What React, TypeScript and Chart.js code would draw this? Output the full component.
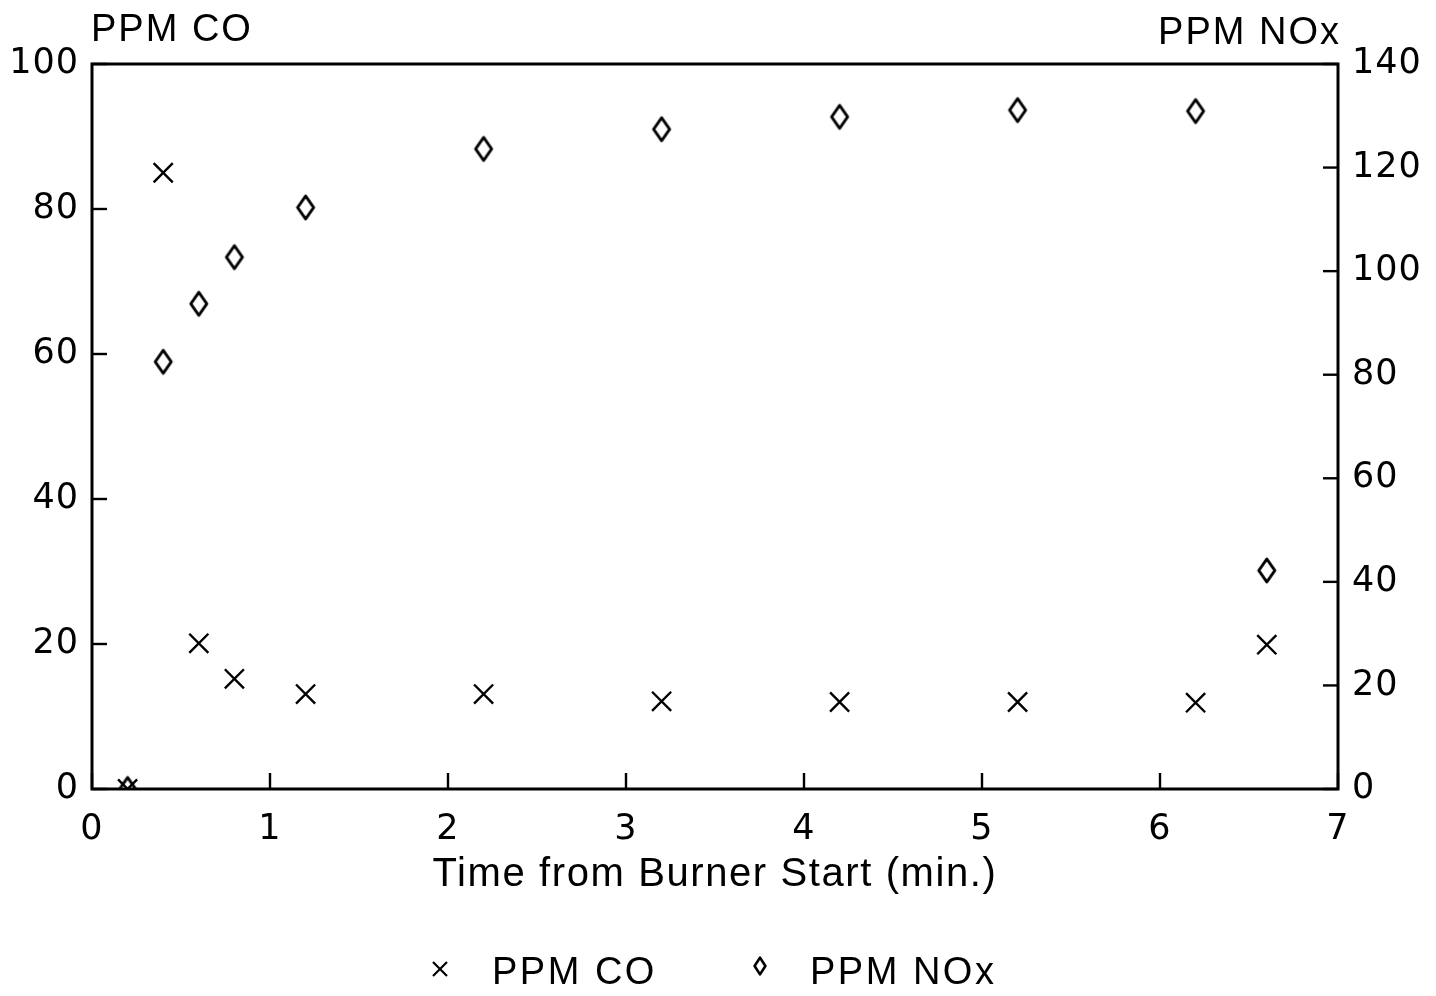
import React, { useEffect, useRef } from "react";
import { Chart, registerables } from "chart.js";

Chart.register(...registerables);

const timeMin = [0.2, 0.4, 0.6, 0.8, 1.2, 2.2, 3.2, 4.2, 5.2, 6.2, 6.6];
const ppmCO = [0, 85, 20.1, 15.2, 13.1, 13.1, 12.1, 12, 12, 11.9, 19.9];
const ppmNOx = [0, 82.5, 93.7, 102.7, 112.3, 123.6, 127.4, 129.8, 131.1, 130.9, 42.2];

const xTitle = "Time from Burner Start (min.)";
const leftTitle = "PPM CO";
const rightTitle = "PPM NOx";
const seriesLabels = ["PPM CO", "PPM NOx"];

const TICKFONT = "'DejaVu Sans', 'Liberation Sans', Arial, sans-serif";
const TEXTFONT = "'Liberation Sans', Arial, Helvetica, sans-serif";

function makeDiamond(w: number, h: number, lw: number) {
  const c = document.createElement("canvas");
  c.width = w;
  c.height = h;
  const g = c.getContext("2d")!;
  g.strokeStyle = "#000";
  g.lineWidth = lw;
  g.lineJoin = "round";
  g.beginPath();
  g.moveTo(w / 2, lw);
  g.lineTo(w - lw, h / 2);
  g.lineTo(w / 2, h - lw);
  g.lineTo(lw, h / 2);
  g.closePath();
  g.stroke();
  return c;
}

export default function App() {
  const ref = useRef<HTMLCanvasElement | null>(null);

  useEffect(() => {
    document.body.style.margin = "0";
    const canvas = ref.current!;
    const diamond = makeDiamond(22, 29, 3);
    const legendDiamond = makeDiamond(16, 22, 2.6);

    const decor = {
      id: "decor",
      beforeDraw(chart: any) {
        (chart.ctx as any).letterSpacing = "1px";
      },
      beforeDatasetsDraw(chart: any) {
        const ctx = chart.ctx;
        const a = chart.chartArea;
        ctx.save();
        ctx.strokeStyle = "#000";
        ctx.lineWidth = 3;
        ctx.strokeRect(a.left, a.top, a.right - a.left, a.bottom - a.top);
        // inward tick marks
        ctx.lineWidth = 2.4;
        const sy = chart.scales.y;
        sy.ticks.forEach((t: any) => {
          const p = sy.getPixelForValue(t.value);
          ctx.beginPath();
          ctx.moveTo(a.left, p);
          ctx.lineTo(a.left + 15, p);
          ctx.stroke();
        });
        const sy1 = chart.scales.y1;
        sy1.ticks.forEach((t: any) => {
          const p = sy1.getPixelForValue(t.value);
          ctx.beginPath();
          ctx.moveTo(a.right, p);
          ctx.lineTo(a.right - 15, p);
          ctx.stroke();
        });
        const sx = chart.scales.x;
        sx.ticks.forEach((t: any) => {
          const p = sx.getPixelForValue(t.value);
          ctx.beginPath();
          ctx.moveTo(p, a.bottom);
          ctx.lineTo(p, a.bottom - 16);
          ctx.stroke();
        });
        ctx.restore();
      },
      afterDraw(chart: any) {
        const ctx = chart.ctx;
        const a = chart.chartArea;
        ctx.save();
        ctx.fillStyle = "#000";
        ctx.textBaseline = "middle";
        // axis titles
        ctx.font = `38px ${TEXTFONT}`;
        (ctx as any).letterSpacing = "2px";
        ctx.textAlign = "left";
        ctx.fillText(leftTitle, a.left - 1, 31);
        ctx.textAlign = "right";
        ctx.fillText(rightTitle, a.right + 3, 34);
        ctx.font = `40px ${TEXTFONT}`;
        (ctx as any).letterSpacing = "1.6px";
        ctx.textAlign = "center";
        ctx.fillText(xTitle, (a.left + a.right) / 2, 875);
        // legend
        ctx.font = `38px ${TEXTFONT}`;
        (ctx as any).letterSpacing = "2.5px";
        ctx.textAlign = "left";
        ctx.fillText(seriesLabels[0], 492, 974);
        ctx.fillText(seriesLabels[1], 810, 974);
        ctx.strokeStyle = "#000";
        ctx.lineWidth = 2.2;
        const cx = 440, cy = 969, r = 7;
        ctx.beginPath();
        ctx.moveTo(cx - r, cy - r);
        ctx.lineTo(cx + r, cy + r);
        ctx.moveTo(cx + r, cy - r);
        ctx.lineTo(cx - r, cy + r);
        ctx.stroke();
        ctx.drawImage(legendDiamond, 760 - 8, 966 - 11);
        ctx.restore();
      },
    };

    const tickFont = { family: TICKFONT, size: 35 };

    const chart = new Chart(canvas, {
      type: "scatter",
      data: {
        datasets: [
          {
            label: seriesLabels[0],
            data: timeMin.map((t, i) => ({ x: t, y: ppmCO[i] })),
            yAxisID: "y",
            pointStyle: "crossRot",
            pointRadius: 13.5,
            borderColor: "#000",
            backgroundColor: "#000",
            borderWidth: 2.4,
          },
          {
            label: seriesLabels[1],
            data: timeMin.map((t, i) => ({ x: t, y: ppmNOx[i] })),
            yAxisID: "y1",
            pointStyle: diamond as any,
            pointRadius: 12,
            borderColor: "#000",
            backgroundColor: "#000",
          },
        ],
      },
      options: {
        responsive: false,
        animation: false,
        devicePixelRatio: 1,
        layout: { padding: { top: 64, bottom: 107, left: 0, right: 0 } },
        plugins: {
          legend: { display: false },
          tooltip: { enabled: false },
          title: { display: false },
        },
        scales: {
          x: {
            type: "linear",
            min: 0,
            max: 7,
            ticks: { stepSize: 1, color: "#000", font: tickFont, padding: 20 },
            grid: { display: false, drawTicks: false },
            border: { display: false },
            afterFit: (s: any) => {
              s.height = 100;
            },
          },
          y: {
            position: "left",
            min: 0,
            max: 100,
            ticks: { stepSize: 20, color: "#000", font: tickFont, padding: 13 },
            grid: { display: false, drawTicks: false },
            border: { display: false },
            afterFit: (s: any) => {
              s.width = 92;
            },
          },
          y1: {
            position: "right",
            min: 0,
            max: 140,
            ticks: { stepSize: 20, color: "#000", font: tickFont, padding: 14 },
            grid: { display: false, drawTicks: false },
            border: { display: false },
            afterFit: (s: any) => {
              s.width = 98;
            },
          },
        },
      },
      plugins: [decor],
    });
    return () => chart.destroy();
  }, []);

  return (
    <div style={{ width: 1436, height: 996, background: "#fff" }}>
      <canvas ref={ref} width={1436} height={996} style={{ display: "block" }} />
    </div>
  );
}
